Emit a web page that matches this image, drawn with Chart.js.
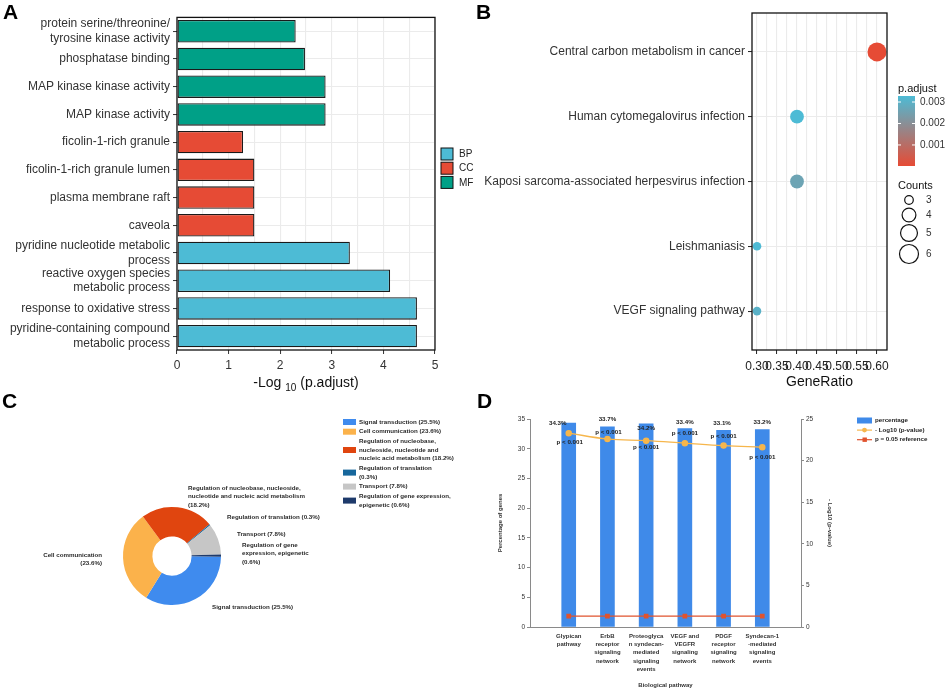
<!DOCTYPE html>
<html>
<head>
<meta charset="utf-8">
<script src="https://cdn.jsdelivr.net/npm/chart.js@4.4.0/dist/chart.umd.min.js"></script>
<style>
  body { margin: 0; background: #fff; width: 945px; height: 689px; position: relative; overflow: hidden; }
  canvas { position: absolute; }
  .tag { position: absolute; font: bold 21px 'Liberation Sans', Arial, sans-serif; line-height: 1; color: #000; }
</style>
</head>
<body>
<canvas id="chartA" width="482" height="395" style="left:0;top:0"></canvas>
<canvas id="chartB" width="475" height="395" style="left:470px;top:0"></canvas>
<canvas id="chartC" width="475" height="299" style="left:0;top:390px"></canvas>
<canvas id="chartD" width="470" height="299" style="left:475px;top:390px"></canvas>
<div class="tag" style="left:3px;top:1px">A</div>
<div class="tag" style="left:476px;top:1px">B</div>
<div class="tag" style="left:2px;top:390px">C</div>
<div class="tag" style="left:477px;top:390px">D</div>
<script>
const SANS = "'Liberation Sans', Arial, sans-serif";

// ---- A: GO terms ----
const goTerms = [
  ['protein serine/threonine/', 'tyrosine kinase activity'],
  'phosphatase binding',
  'MAP kinase kinase activity',
  'MAP kinase activity',
  'ficolin-1-rich granule',
  'ficolin-1-rich granule lumen',
  'plasma membrane raft',
  'caveola',
  ['pyridine nucleotide metabolic', 'process'],
  ['reactive oxygen species', 'metabolic process'],
  'response to oxidative stress',
  ['pyridine-containing compound', 'metabolic process']
];
const goNegLog10 = [2.30, 2.48, 2.88, 2.88, 1.28, 1.50, 1.50, 1.50, 3.35, 4.13, 4.65, 4.65];
const goOntology = ['MF', 'MF', 'MF', 'MF', 'CC', 'CC', 'CC', 'CC', 'BP', 'BP', 'BP', 'BP'];
const ontologies = ['BP', 'CC', 'MF'];
const ontologyColors = ['#4DBBD5', '#E64B35', '#00A087'];

// ---- B: KEGG pathways ----
const keggPathways = [
  'Central carbon metabolism in cancer',
  'Human cytomegalovirus infection',
  'Kaposi sarcoma-associated herpesvirus infection',
  'Leishmaniasis',
  'VEGF signaling pathway'
];
const keggGeneRatio = [0.60, 0.40, 0.40, 0.30, 0.30];
const keggCounts = [6, 4, 4, 3, 3];
const keggPAdjust = [0.00002, 0.00328, 0.0026, 0.00326, 0.0030];
const ratioTicks = [0.30, 0.35, 0.40, 0.45, 0.50, 0.55, 0.60];
const pAdjustTicks = [0.001, 0.002, 0.003];
const countTicks = [3, 4, 5, 6];

// ---- C: biological process share ----
const bioProcesses = [
  'Signal transduction',
  'Cell communication',
  'Regulation of nucleobase, nucleoside, nucleotide and nucleic acid metabolism',
  'Regulation of translation',
  'Transport',
  'Regulation of gene expression, epigenetic'
];
const bioShares = [25.5, 23.6, 18.2, 0.3, 7.8, 0.6];
const bioColors = ['#3F8BEE', '#FBB24B', '#E0450F', '#17679C', '#C6C6C6', '#1E3A6B'];

// ---- D: biological pathways ----
const pathwayNames = [
  ['Glypican', 'pathway'],
  ['ErbB', 'receptor', 'signaling', 'network'],
  ['Proteoglyca', 'n syndecan-', 'mediated', 'signaling', 'events'],
  ['VEGF and', 'VEGFR', 'signaling', 'network'],
  ['PDGF', 'receptor', 'signaling', 'network'],
  ['Syndecan-1', '-mediated', 'signaling', 'events']
];
const genePercent = [34.3, 33.7, 34.2, 33.4, 33.1, 33.2];
const negLog10P = [23.3, 22.6, 22.4, 22.1, 21.8, 21.6];
const refNegLog10P = [1.30, 1.30, 1.30, 1.30, 1.30, 1.30];
const pctTicks = [0, 5, 10, 15, 20, 25, 30, 35];
const logTicks = [0, 5, 10, 15, 20, 25];

Chart.defaults.font.family = SANS;
Chart.defaults.color = '#333';
Chart.defaults.animation = false;
Chart.defaults.responsive = false;
Chart.defaults.plugins.legend.display = false;
Chart.defaults.plugins.tooltip.enabled = false;

// black box around ggplot-style panels
const panelBorder = {
  id: 'panelBorder',
  afterDraw(chart) {
    const { ctx, chartArea: a } = chart;
    ctx.save();
    ctx.strokeStyle = '#111';
    ctx.lineWidth = 1.3;
    ctx.strokeRect(a.left, a.top, a.right - a.left, a.bottom - a.top);
    ctx.restore();
  }
};

const isInt = v => Math.abs(v - Math.round(v)) < 1e-9;

// ---------- A ----------
const ontologyLegend = {
  id: 'ontologyLegend',
  afterDraw(chart) {
    const { ctx, chartArea: a } = chart;
    ctx.save();
    ctx.font = '10px ' + SANS;
    ctx.textBaseline = 'middle';
    ontologies.forEach((name, i) => {
      const x = a.right + 6, y = 148 + i * 14.2;
      ctx.fillStyle = ontologyColors[i];
      ctx.fillRect(x, y, 12, 12);
      ctx.strokeStyle = '#111';
      ctx.lineWidth = 1;
      ctx.strokeRect(x, y, 12, 12);
      ctx.fillStyle = '#222';
      ctx.fillText(name, x + 18, y + 6.5);
    });
    // x axis title with subscript
    const parts = [['-Log ', 14, 0], ['10', 10, 4], [' (p.adjust)', 14, 0]];
    let w = 0;
    parts.forEach(p => { ctx.font = p[1] + 'px ' + SANS; w += ctx.measureText(p[0]).width; });
    let x = (a.left + a.right) / 2 - w / 2;
    const base = a.bottom + 37;
    ctx.fillStyle = '#111';
    ctx.textBaseline = 'alphabetic';
    parts.forEach(p => {
      ctx.font = p[1] + 'px ' + SANS;
      ctx.fillText(p[0], x, base + p[2]);
      x += ctx.measureText(p[0]).width;
    });
    ctx.restore();
  }
};

new Chart(document.getElementById('chartA'), {
  type: 'bar',
  data: {
    labels: goTerms,
    datasets: [{
      data: goNegLog10,
      backgroundColor: goOntology.map(o => ontologyColors[ontologies.indexOf(o)]),
      borderColor: '#1a1a1a',
      borderWidth: 1.3,
      borderSkipped: false,
      barPercentage: 0.9,
      categoryPercentage: 0.9
    }]
  },
  options: {
    indexAxis: 'y',
    layout: { padding: { left: 0, top: 10, right: 47, bottom: 0 } },
    scales: {
      x: {
        min: 0, max: 5,
        ticks: { stepSize: 0.5, autoSkip: false, maxRotation: 0, font: { size: 12 }, color: '#333', padding: 4,
                 callback: v => isInt(v) ? v : '' },
        grid: { color: '#EBEBEB', lineWidth: 1.1, tickLength: 4, tickWidth: 1,
                tickColor: c => isInt(c.tick.value) ? '#333' : 'rgba(0,0,0,0)' },
        border: { display: false },
        afterFit: s => { s.height = 45; }
      },
      y: {
        ticks: { autoSkip: false, font: { size: 12 }, color: '#333', padding: 3 },
        grid: { offset: false, color: '#EBEBEB', lineWidth: 1.1, tickLength: 4, tickWidth: 1, tickColor: '#333' },
        border: { display: false },
        afterFit: s => { s.width = 177; }
      }
    }
  },
  plugins: [panelBorder, ontologyLegend]
});

// ---------- B ----------
const lowColor = [230, 75, 53], highColor = [77, 187, 213];
const pMin = Math.min(...keggPAdjust), pMax = Math.max(...keggPAdjust);
function pColor(p) {
  const t = (p - pMin) / (pMax - pMin);
  return 'rgb(' + lowColor.map((l, k) => Math.round(l + (highColor[k] - l) * t)).join(',') + ')';
}
function countRadius(n) { return 14.7 - 31.2 / n; }
const isMajorRatio = v => ratioTicks.some(r => Math.abs(r - v) < 1e-6);

const keggLegend = {
  id: 'keggLegend',
  afterDraw(chart) {
    const { ctx, chartArea: a } = chart;
    const bx = a.right + 11, top = 96, bottom = 166, bw = 17;
    ctx.save();
    ctx.fillStyle = '#111';
    ctx.font = '11px ' + SANS;
    ctx.textBaseline = 'alphabetic';
    ctx.fillText('p.adjust', bx, top - 4);
    const grad = ctx.createLinearGradient(0, top, 0, bottom);
    grad.addColorStop(0, pColor(pMax));
    grad.addColorStop(0.5, pColor((pMax + pMin) / 2));
    grad.addColorStop(1, pColor(pMin));
    ctx.fillStyle = grad;
    ctx.fillRect(bx, top, bw, bottom - top);
    ctx.font = '10px ' + SANS;
    ctx.textBaseline = 'middle';
    pAdjustTicks.forEach(p => {
      const y = bottom - (p - pMin) / (pMax - pMin) * (bottom - top);
      ctx.strokeStyle = '#fff';
      ctx.lineWidth = 1;
      ctx.beginPath();
      ctx.moveTo(bx, y); ctx.lineTo(bx + 3, y);
      ctx.moveTo(bx + bw - 3, y); ctx.lineTo(bx + bw, y);
      ctx.stroke();
      ctx.fillStyle = '#333';
      ctx.fillText(p.toFixed(3), bx + bw + 5, y);
    });
    ctx.fillStyle = '#111';
    ctx.font = '11px ' + SANS;
    ctx.textBaseline = 'alphabetic';
    ctx.fillText('Counts', bx, 189);
    const keyY = [200, 215, 233, 254];
    ctx.font = '10px ' + SANS;
    ctx.textBaseline = 'middle';
    countTicks.forEach((n, i) => {
      ctx.beginPath();
      ctx.arc(bx + 11, keyY[i], countRadius(n), 0, Math.PI * 2);
      ctx.strokeStyle = '#111';
      ctx.lineWidth = 1.2;
      ctx.stroke();
      ctx.fillStyle = '#333';
      ctx.fillText(String(n), bx + 28, keyY[i]);
    });
    ctx.restore();
  }
};

new Chart(document.getElementById('chartB'), {
  type: 'bubble',
  data: {
    datasets: [{
      data: keggGeneRatio.map((g, i) => ({ x: g, y: i, r: countRadius(keggCounts[i]) })),
      backgroundColor: keggPAdjust.map(pColor),
      borderWidth: 0
    }]
  },
  options: {
    layout: { padding: { left: 0, top: 13, right: 58, bottom: 0 } },
    scales: {
      x: {
        type: 'linear', min: 0.2875, max: 0.625,
        afterBuildTicks: s => {
          const t = [];
          ratioTicks.forEach((r, i) => {
            t.push({ value: r });
            if (i < ratioTicks.length - 1) t.push({ value: (r + ratioTicks[i + 1]) / 2 });
          });
          s.ticks = t;
        },
        ticks: { autoSkip: false, maxRotation: 0, minRotation: 0, font: { size: 12 }, color: '#222', padding: 5,
                 callback: v => isMajorRatio(v) ? v.toFixed(2) : '' },
        grid: { color: '#EBEBEB', lineWidth: 1.1, tickLength: 4, tickWidth: 1,
                tickColor: c => isMajorRatio(c.tick.value) ? '#222' : 'rgba(0,0,0,0)' },
        border: { display: false },
        title: { display: true, text: 'GeneRatio', font: { size: 14 }, color: '#111', padding: { top: 0, bottom: 4 } },
        afterFit: s => { s.height = 45; }
      },
      y: {
        type: 'linear', min: -0.6, max: 4.6, reverse: true,
        afterBuildTicks: s => { s.ticks = keggPathways.map((_, i) => ({ value: i })); },
        ticks: { autoSkip: false, font: { size: 12 }, color: '#333', padding: 3, callback: v => keggPathways[v] },
        grid: { color: '#EBEBEB', lineWidth: 1.1, tickLength: 4, tickWidth: 1, tickColor: '#222' },
        border: { display: false },
        afterFit: s => { s.width = 282; }
      }
    }
  },
  plugins: [panelBorder, keggLegend]
});

// ---------- C ----------
function breakWords(text, breaks) {
  const w = text.split(' ');
  const out = [];
  let s = 0;
  breaks.concat([w.length]).forEach(b => { out.push(w.slice(s, b).join(' ')); s = b; });
  return out;
}
const bioText = bioProcesses.map((p, i) => p + ' (' + bioShares[i] + '%)');
const legendBreaks = [[], [], [3, 6], [3], [], [4]];
const sliceBreaks = [[], [2], [4, 9], [], [], [3, 5]];
// label anchor relative to donut centre: dx, dy, align
const sliceLabelPos = [[40, 51, 'left'], [-70, -1, 'right'], [16, -68, 'left'],
                       [55, -39, 'left'], [65, -22, 'left'], [70, -11, 'left']];
const C_FONT = 'bold 6.2px ' + SANS;

const donutText = {
  id: 'donutText',
  afterDraw(chart) {
    const { ctx } = chart;
    const arcs = chart.getDatasetMeta(0).data;
    const cx = arcs[0].x, cy = arcs[0].y;
    ctx.save();
    ctx.font = C_FONT;
    ctx.textBaseline = 'middle';
    ctx.fillStyle = '#2a2a2a';
    arcs.forEach((arc, i) => {
      const [dx, dy, align] = sliceLabelPos[i];
      ctx.textAlign = align;
      breakWords(bioText[i], sliceBreaks[i]).forEach((line, k) => {
        ctx.fillText(line, cx + dx, cy + dy + k * 8.6);
      });
    });
    // legend
    ctx.textAlign = 'left';
    let y = 32;
    bioText.forEach((t, i) => {
      const lines = breakWords(t, legendBreaks[i]);
      const mid = y + (lines.length - 1) * 8.6 / 2;
      ctx.fillStyle = bioColors[i];
      ctx.fillRect(343, mid - 3, 13, 6);
      ctx.fillStyle = '#2a2a2a';
      lines.forEach((line, k) => ctx.fillText(line, 359, y + k * 8.6));
      y += (lines.length - 1) * 8.6 + 9.7;
    });
    ctx.restore();
  }
};

new Chart(document.getElementById('chartC'), {
  type: 'doughnut',
  data: {
    labels: bioProcesses,
    datasets: [{ data: bioShares, backgroundColor: bioColors, borderWidth: 0, hoverOffset: 0, offset: 0 }]
  },
  options: {
    cutout: '40%',
    rotation: 91,
    layout: { padding: { left: 123, top: 117, right: 254, bottom: 84 } }
  },
  plugins: [donutText]
});

// ---------- D ----------
const pctLabelShift = [[-11, 0], [0, -7], [0, 5], [0, -6], [-1.5, -7], [0, -7]];
const pLabelShift = [[1, 9], [1, -7], [0, 7], [0, -10], [0, -9], [0, 10]];
const D_FONT = { size: 6, weight: 'bold', family: SANS };

const barLabels = {
  id: 'barLabels',
  afterDatasetsDraw(chart) {
    const { ctx } = chart;
    ctx.save();
    ctx.font = 'bold 6.2px ' + SANS;
    ctx.fillStyle = '#222';
    ctx.textAlign = 'center';
    ctx.textBaseline = 'middle';
    chart.getDatasetMeta(0).data.forEach((bar, i) => {
      ctx.fillText(genePercent[i] + '%', bar.x + pctLabelShift[i][0], bar.y + pctLabelShift[i][1]);
    });
    chart.getDatasetMeta(1).data.forEach((pt, i) => {
      const txt = negLog10P[i] > 3 ? 'p < 0.001' : 'p = ' + Math.pow(10, -negLog10P[i]).toFixed(3);
      ctx.fillText(txt, pt.x + pLabelShift[i][0], pt.y + pLabelShift[i][1]);
    });
    // legend
    const a = chart.chartArea;
    const lx = a.right + 56;
    ctx.textAlign = 'left';
    ctx.fillStyle = '#3F8AE9';
    ctx.fillRect(lx, 27.5, 15, 6);
    const rows = chart.data.datasets;
    rows.forEach((ds, i) => {
      const y = 30.5 + i * 9.6;
      if (i > 0) {
        ctx.strokeStyle = ds.borderColor;
        ctx.lineWidth = 1.2;
        ctx.beginPath(); ctx.moveTo(lx, y); ctx.lineTo(lx + 15, y); ctx.stroke();
        ctx.fillStyle = ds.borderColor;
        if (ds.pointStyle === 'rect') ctx.fillRect(lx + 5.5, y - 2.2, 4.4, 4.4);
        else { ctx.beginPath(); ctx.arc(lx + 7.5, y, 2.4, 0, Math.PI * 2); ctx.fill(); }
      }
      ctx.fillStyle = '#222';
      ctx.fillText(ds.label, lx + 18, y);
    });
    ctx.restore();
  }
};

new Chart(document.getElementById('chartD'), {
  data: {
    datasets: [
      { type: 'bar', label: 'percentage', data: genePercent.map((v, i) => ({ x: i + 1, y: v })),
        backgroundColor: '#3F8AE9', barThickness: 14, yAxisID: 'y', order: 3 },
      { type: 'line', label: '- Log10 (p-value)', data: negLog10P.map((v, i) => ({ x: i + 1, y: v })),
        borderColor: '#F6B64C', backgroundColor: '#F6B64C', borderWidth: 1.3, pointRadius: 2.6,
        tension: 0.4, yAxisID: 'y1', order: 1 },
      { type: 'line', label: 'p = 0.05 reference', data: refNegLog10P.map((v, i) => ({ x: i + 1, y: v })),
        borderColor: '#E0532E', backgroundColor: '#E0532E', borderWidth: 1.3, pointStyle: 'rect',
        pointRadius: 2.4, yAxisID: 'y1', order: 2 }
    ]
  },
  options: {
    layout: { padding: { left: 18, top: 29, right: 108, bottom: 0 } },
    scales: {
      x: {
        type: 'linear', min: 0, max: 7, offset: false,
        afterBuildTicks: s => { s.ticks = pathwayNames.map((_, i) => ({ value: i + 1 })); },
        ticks: { autoSkip: false, maxRotation: 0, minRotation: 0, padding: 5, color: '#333',
                 font: { ...D_FONT, lineHeight: 1.38 }, callback: v => pathwayNames[v - 1] },
        grid: { display: false, drawTicks: false },
        border: { display: true, color: '#8a8a8a', width: 1 },
        title: { display: true, text: 'Biological pathway', color: '#333', font: D_FONT, padding: { top: 0, bottom: 0 } },
        afterFit: s => { s.height = 62; }
      },
      y: {
        position: 'left', min: 0, max: 35,
        afterBuildTicks: s => { s.ticks = pctTicks.map(v => ({ value: v })); },
        ticks: { font: { size: 6.5 }, color: '#333', padding: 2 },
        grid: { drawOnChartArea: false, tickLength: 3, color: '#8a8a8a' },
        border: { color: '#8a8a8a' },
        title: { display: true, text: 'Percentage of genes', color: '#333', font: D_FONT },
        afterFit: s => { s.width = 37; }
      },
      y1: {
        position: 'right', min: 0, max: 25,
        afterBuildTicks: s => { s.ticks = logTicks.map(v => ({ value: v })); },
        ticks: { font: { size: 6.5 }, color: '#333', padding: 2 },
        grid: { drawOnChartArea: false, tickLength: 3, color: '#8a8a8a' },
        border: { color: '#8a8a8a' },
        title: { display: true, text: '- Log10 (p-value)', color: '#333', font: D_FONT },
        afterFit: s => { s.width = 36; }
      }
    }
  },
  plugins: [barLabels]
});
</script>
</body>
</html>
